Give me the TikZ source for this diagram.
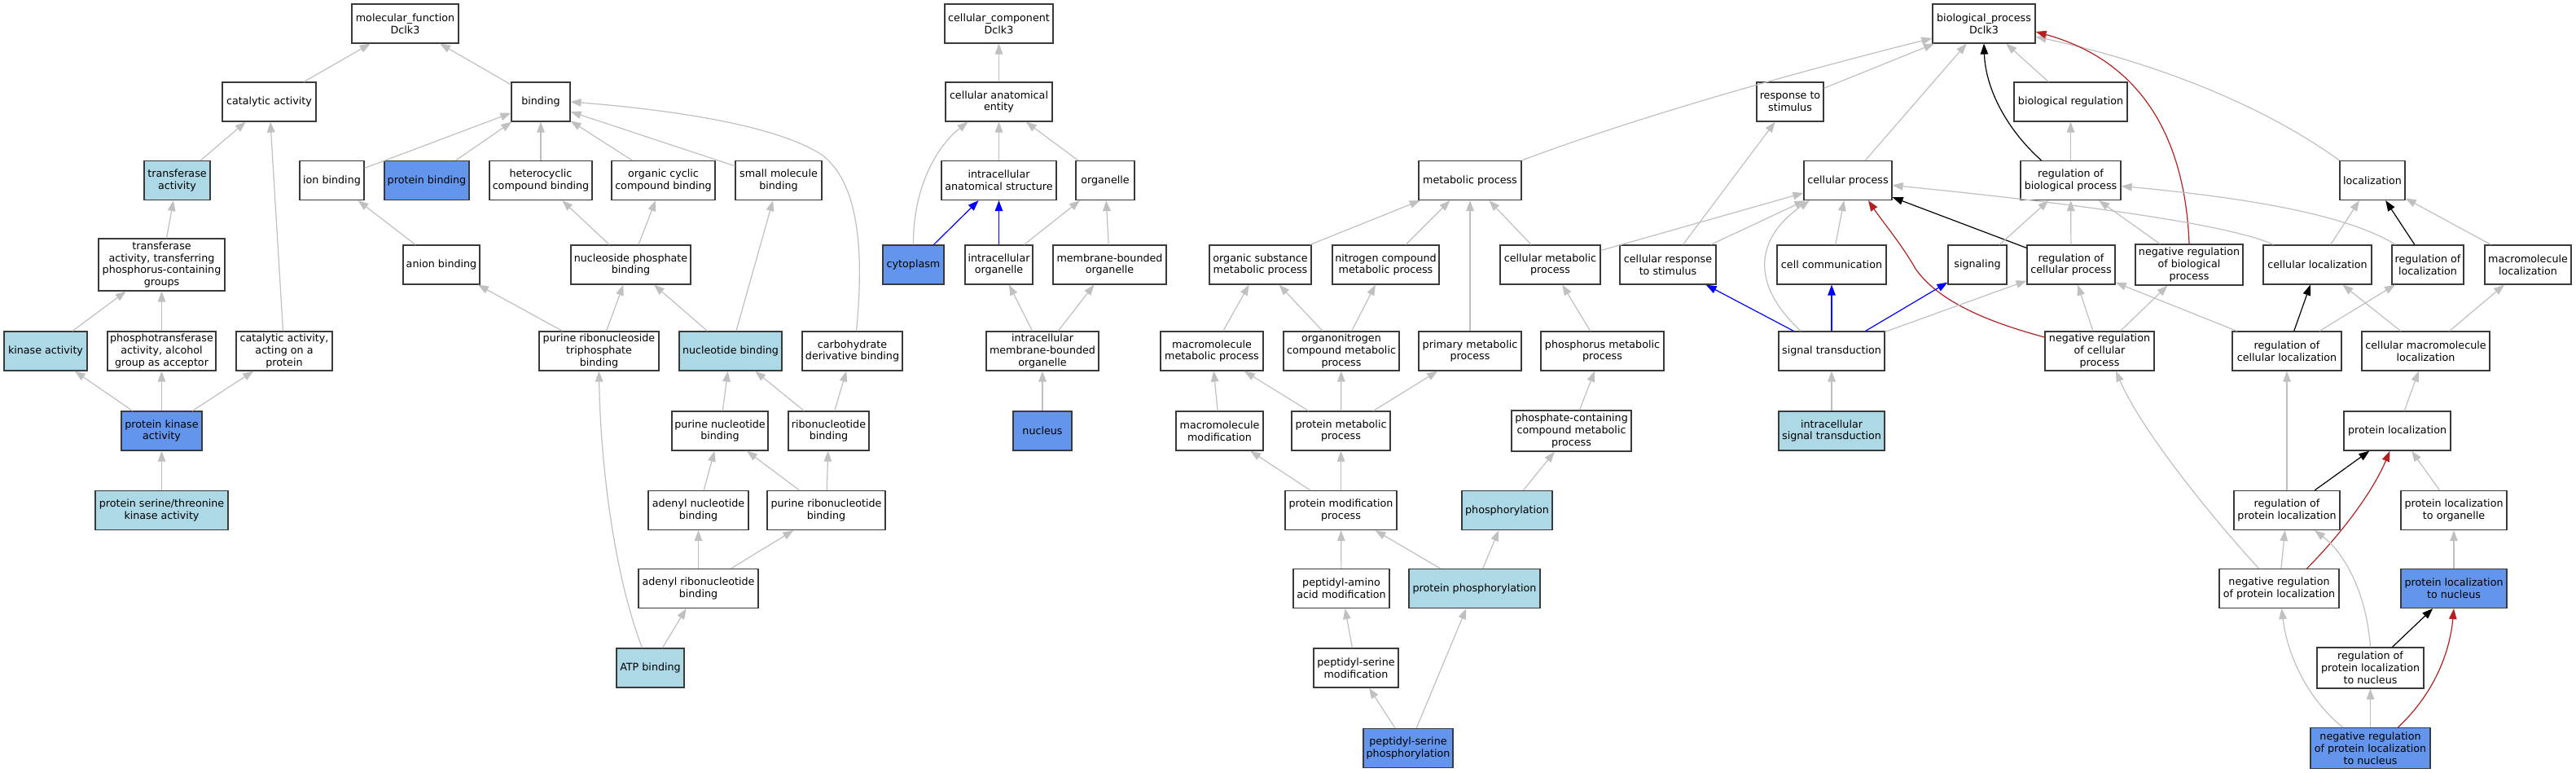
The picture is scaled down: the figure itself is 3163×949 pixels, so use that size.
\documentclass[tikz,border=0pt]{standalone}
\usepackage{fontspec}
\setmainfont{DejaVu Sans}
\usetikzlibrary{arrows.meta}
\definecolor{edgegray}{HTML}{C0C0C0}
\definecolor{lbfill}{HTML}{ADD8E6}
\definecolor{cbfill}{HTML}{6495ED}
\definecolor{fbred}{HTML}{B22222}
\definecolor{bord}{HTML}{3A3A3A}
\begin{document}
\begin{tikzpicture}[x=1pt,y=-1pt,
 box/.style={draw=bord,line width=1.2pt,fill=white,inner sep=0pt,align=center,minimum height=48pt,font=\fontsize{12.7pt}{14.8pt}\selectfont},
 lbox/.style={box,fill=lbfill},
 cbox/.style={box,fill=cbfill},
 ge/.style={draw=edgegray,line width=1.2pt,-{Triangle[length=13pt,width=9.5pt]}},
 be/.style={ge,draw=blue},
 ke/.style={ge,draw=black},
 re/.style={ge,draw=fbred}]
\fill[white] (0,0) rectangle (3163,949);
\useasboundingbox (0,0) rectangle (3163,949);
% row 0
\node[box,minimum width=131pt] (mf) at (497.5,29) {molecular\_function\\Dclk3};
\node[box,minimum width=133pt] (cc) at (1226.5,29) {cellular\_component\\Dclk3};
\node[box,minimum width=126pt] (bp) at (2436,29) {biological\_process\\Dclk3};
% row 1
\node[box,minimum width=115pt] (cat) at (330.5,125) {catalytic activity};
\node[box,minimum width=72pt] (bind) at (664,125) {binding};
\node[box,minimum width=131pt] (cae) at (1226.5,125) {cellular anatomical\\entity};
\node[box,minimum width=82pt] (rts) at (2198,125) {response to\\stimulus};
\node[box,minimum width=139pt] (breg) at (2542.5,125) {biological regulation};
% row 2
\node[lbox,minimum width=81pt] (trans) at (217.5,221.5) {transferase\\activity};
\node[box,minimum width=79pt] (ionb) at (407.5,221.5) {ion binding};
\node[cbox,minimum width=104pt] (protb) at (524,221.5) {protein binding};
\node[box,minimum width=126pt] (hetb) at (664,221.5) {heterocyclic\\compound binding};
\node[box,minimum width=127pt] (orgcb) at (814.5,221.5) {organic cyclic\\compound binding};
\node[box,minimum width=106pt] (smb) at (956,221.5) {small molecule\\binding};
\node[box,minimum width=141pt] (ias) at (1226.5,221.5) {intracellular\\anatomical structure};
\node[box,minimum width=72pt] (org) at (1357,221.5) {organelle};
\node[box,minimum width=126pt] (metp) at (1805,221.5) {metabolic process};
\node[box,minimum width=108pt] (cellp) at (2269,221.5) {cellular process};
\node[box,minimum width=123pt] (rbp) at (2542.5,221.5) {regulation of\\biological process};
\node[box,minimum width=80pt] (loc) at (2913,221.5) {localization};
% row 3
\node[box,minimum width=155pt,minimum height=64pt] (transP) at (198.5,325) {transferase\\activity, transferring\\phosphorus-containing\\groups};
\node[box,minimum width=94pt] (anb) at (542,325) {anion binding};
\node[box,minimum width=147pt] (npb) at (774.5,325) {nucleoside phosphate\\binding};
\node[cbox,minimum width=75pt] (cyto) at (1121.5,325) {cytoplasm};
\node[box,minimum width=83pt] (io) at (1226.5,325) {intracellular\\organelle};
\node[box,minimum width=139pt] (mbo) at (1362.5,325) {membrane-bounded\\organelle};
\node[box,minimum width=125pt] (osmp) at (1547.5,325) {organic substance\\metabolic process};
\node[box,minimum width=131pt] (ncmp) at (1701.5,325) {nitrogen compound\\metabolic process};
\node[box,minimum width=123pt] (cmp) at (1903.5,325) {cellular metabolic\\process};
\node[box,minimum width=118pt] (crs) at (2048,325) {cellular response\\to stimulus};
\node[box,minimum width=134pt] (ccom) at (2249,325) {cell communication};
\node[box,minimum width=72pt] (sig) at (2428,325) {signaling};
\node[box,minimum width=108pt] (rcp) at (2543,325) {regulation of\\cellular process};
\node[box,minimum width=132pt,minimum height=50pt] (nrbp) at (2688,325) {negative regulation\\of biological\\process};
\node[box,minimum width=133pt] (cloc) at (2845.5,325) {cellular localization};
\node[box,minimum width=88pt] (rloc) at (2981,325) {regulation of\\localization};
\node[box,minimum width=106pt] (mloc) at (3104,325) {macromolecule\\localization};
% row 4
\node[lbox,minimum width=102pt] (kin) at (56,431) {kinase activity};
\node[box,minimum width=133pt] (ptrans) at (198.5,431) {phosphotransferase\\activity, alcohol\\group as acceptor};
\node[box,minimum width=118pt] (catp) at (349,431) {catalytic activity,\\acting on a\\protein};
\node[box,minimum width=147pt] (prntb) at (735.5,431) {purine ribonucleoside\\triphosphate\\binding};
\node[lbox,minimum width=126pt] (nucb) at (897,431) {nucleotide binding};
\node[box,minimum width=123pt] (carb) at (1046.5,431) {carbohydrate\\derivative binding};
\node[box,minimum width=138pt] (imbo) at (1280,431) {intracellular\\membrane-bounded\\organelle};
\node[box,minimum width=126pt] (mmp) at (1488,431) {macromolecule\\metabolic process};
\node[box,minimum width=142pt] (oncmp) at (1647,431) {organonitrogen\\compound metabolic\\process};
\node[box,minimum width=126pt] (pmp) at (1805,431) {primary metabolic\\process};
\node[box,minimum width=151pt] (phmp) at (1967.5,431) {phosphorus metabolic\\process};
\node[box,minimum width=130pt] (st) at (2249,431) {signal transduction};
\node[box,minimum width=134pt] (nrcp) at (2578,431) {negative regulation\\of cellular\\process};
\node[box,minimum width=134pt] (rcloc) at (2808,431) {regulation of\\cellular localization};
\node[box,minimum width=157pt] (cmloc) at (2978.5,431) {cellular macromolecule\\localization};
% row 5
\node[cbox,minimum width=99pt] (pka) at (198.5,529) {protein kinase\\activity};
\node[box,minimum width=118pt] (pnb) at (884,529) {purine nucleotide\\binding};
\node[box,minimum width=99pt] (rnb) at (1017.5,529) {ribonucleotide\\binding};
\node[cbox,minimum width=72pt] (nuc) at (1280,529) {nucleus};
\node[box,minimum width=107pt] (mmod) at (1497.5,529) {macromolecule\\modification};
\node[box,minimum width=121pt] (prmp) at (1646.5,529) {protein metabolic\\process};
\node[box,minimum width=147pt,minimum height=50pt] (phcmp) at (1929.5,529) {phosphate-containing\\compound metabolic\\process};
\node[lbox,minimum width=130pt] (ist) at (2249,529) {intracellular\\signal transduction};
\node[box,minimum width=131pt] (ploc) at (2943.5,529) {protein localization};
% row 6
\node[lbox,minimum width=163pt] (pst) at (198.5,626.5) {protein serine/threonine\\kinase activity};
\node[box,minimum width=123pt] (adnb) at (857.5,626.5) {adenyl nucleotide\\binding};
\node[box,minimum width=145pt] (prnb) at (1014.5,626.5) {purine ribonucleotide\\binding};
\node[box,minimum width=137pt] (pmod) at (1646.5,626.5) {protein modification\\process};
\node[lbox,minimum width=111pt] (phos) at (1850.5,626.5) {phosphorylation};
\node[box,minimum width=130pt] (rploc) at (2808,626.5) {regulation of\\protein localization};
\node[box,minimum width=130pt] (plo) at (3013,626.5) {protein localization\\to organelle};
% row 7
\node[box,minimum width=147pt] (arnb) at (857.5,722.5) {adenyl ribonucleotide\\binding};
\node[box,minimum width=118pt] (pamod) at (1647,722.5) {peptidyl-amino\\acid modification};
\node[lbox,minimum width=161pt] (pphos) at (1810.5,722.5) {protein phosphorylation};
\node[box,minimum width=147pt] (nrploc) at (2798.5,722.5) {negative regulation\\of protein localization};
\node[cbox,minimum width=130pt] (pln) at (3013,722.5) {protein localization\\to nucleus};
% row 8
\node[lbox,minimum width=83pt] (atp) at (798.5,820) {ATP binding};
\node[box,minimum width=104pt] (psmod) at (1665,820) {peptidyl-serine\\modification};
\node[box,minimum width=131pt,minimum height=50pt] (rpln) at (2910.5,820) {regulation of\\protein localization\\to nucleus};
% row 9
\node[cbox,minimum width=110pt] (psphos) at (1729,918.5) {peptidyl-serine\\phosphorylation};
\node[cbox,minimum width=147pt,minimum height=50pt] (nrpln) at (2910.5,918.5) {negative regulation\\of protein localization\\to nucleus};
% ---- molecular function edges
\draw[ge] (cat) -- (mf);
\draw[ge] (bind) -- (mf);
\draw[ge] (trans) -- (cat);
\draw[ge] (catp) -- (cat);
\draw[ge] (ionb) -- (bind);
\draw[ge] (protb) -- (bind);
\draw[ge] (hetb) -- (bind);
\draw[ge] (orgcb) -- (bind);
\draw[ge] (smb) -- (bind);
\draw[ge] ([xshift=5pt]carb.north) .. controls (1062,300) and (1052,222) .. (1009,190) .. controls (960,158) and (850,137) .. (bind.east);
\draw[ge] (transP) -- (trans);
\draw[ge] (anb) -- (ionb);
\draw[ge] (npb) -- (hetb);
\draw[ge] (npb) -- (orgcb);
\draw[ge] (kin) -- (transP);
\draw[ge] (ptrans) -- (transP);
\draw[ge] (prntb) -- (anb);
\draw[ge] (prntb) -- (npb);
\draw[ge] (nucb) -- (npb);
\draw[ge] (nucb) -- (smb);
\draw[ge] (pka) -- (kin);
\draw[ge] (pka) -- (ptrans);
\draw[ge] (pka) -- (catp);
\draw[ge] (pst) -- (pka);
\draw[ge] (pnb) -- (nucb);
\draw[ge] (rnb) -- (nucb);
\draw[ge] (rnb) -- (carb);
\draw[ge] (adnb) -- (pnb);
\draw[ge] (prnb) -- (pnb);
\draw[ge] (prnb) -- (rnb);
\draw[ge] (arnb) -- (adnb);
\draw[ge] (arnb) -- (prnb);
\draw[ge] (atp) -- (arnb);
\draw[ge] ([xshift=-10pt]atp.north) .. controls (752,700) and (737,560) .. (prntb.south);
% ---- cellular component edges
\draw[ge] (cae) -- (cc);
\draw[ge] (ias) -- (cae);
\draw[ge] (org) -- (cae);
\draw[ge] (cyto.north) .. controls (1121,230) and (1150,180) .. ([xshift=-38pt]cae.south);
\draw[be] (cyto) -- (ias);
\draw[be] (io) -- (ias);
\draw[ge] (io) -- (org);
\draw[ge] (mbo) -- (org);
\draw[ge] (imbo) -- (io);
\draw[ge] (imbo) -- (mbo);
\draw[ge] (nuc) -- (imbo);
% ---- biological process edges
\draw[ge] (metp.north east) .. controls (2020,140) and (2220,85) .. ([yshift=-18pt]bp.west);
\draw[ge] (rts) -- (bp);
\draw[ge] (cellp) -- (bp);
\draw[ge] (breg) -- (bp);
\draw[ke] ([xshift=-36pt]rbp.north) .. controls (2465,160) and (2438,110) .. (bp.south);
\draw[ge] (loc.north west) .. controls (2780,130) and (2650,78) .. ([yshift=-16pt]bp.east);
\draw[re] (nrbp.north) .. controls (2683,170) and (2630,75) .. ([yshift=-10pt]bp.east);
\draw[ge] (rbp) -- (breg);
\draw[ge] (osmp) -- (metp);
\draw[ge] (ncmp) -- (metp);
\draw[ge] (pmp) -- (metp);
\draw[ge] (cmp) -- (metp);
\draw[ge] (cmp) -- (cellp);
\draw[ge] (crs) -- (rts);
\draw[ge] (crs) -- (cellp);
\draw[ge] (ccom) -- (cellp);
\draw[ge] ([xshift=-38pt]st.north) .. controls (2140,340) and (2165,285) .. ([xshift=-47pt]cellp.south);
\draw[ke] (rcp) -- (cellp);
\draw[re] ([yshift=17pt]nrcp.west) .. controls (2440,395) and (2380,370) .. (2352,330) .. controls (2335,300) and (2310,270) .. ([xshift=25pt]cellp.south);
\draw[ge] ([xshift=13pt]cloc.north west) .. controls (2740,276) and (2550,250) .. ([yshift=-6pt]cellp.east);
\draw[ge] (sig) -- (rbp);
\draw[ge] (rcp) -- (rbp);
\draw[ge] (nrbp) -- (rbp);
\draw[ge] ([xshift=5pt]rloc.north west) .. controls (2880,262) and (2750,242) .. ([yshift=-7pt]rbp.east);
\draw[ge] (cloc) -- (loc);
\draw[ke] (rloc) -- (loc);
\draw[ge] (mloc) -- (loc);
\draw[ge] (oncmp) -- (osmp);
\draw[ge] (oncmp) -- (ncmp);
\draw[ge] (mmp) -- (osmp);
\draw[ge] (phmp) -- (cmp);
\draw[be] (st) -- (crs);
\draw[be] (st) -- (ccom);
\draw[be] (st) -- (sig);
\draw[ge] (st) -- (rcp);
\draw[ge] (nrcp) -- (rcp);
\draw[ge] (nrcp) -- (nrbp);
\draw[ge] (rcloc) -- (rcp);
\draw[ke] (rcloc) -- (cloc);
\draw[ge] (rcloc) -- (rloc);
\draw[ge] (cmloc) -- (cloc);
\draw[ge] (cmloc) -- (mloc);
\draw[ge] (ist) -- (st);
\draw[ge] (prmp) -- (mmp);
\draw[ge] (prmp) -- (oncmp);
\draw[ge] (prmp) -- (pmp);
\draw[ge] (mmod) -- (mmp);
\draw[ge] (phcmp) -- (phmp);
\draw[ge] (pmod) -- (mmod);
\draw[ge] (pmod) -- (prmp);
\draw[ge] (phos) -- (phcmp);
\draw[ge] (pamod) -- (pmod);
\draw[ge] (pphos) -- (pmod);
\draw[ge] (pphos) -- (phos);
\draw[ge] (psmod) -- (pamod);
\draw[ge] (psphos) -- (psmod);
\draw[ge] (psphos) -- (pphos);
\draw[ge] (rploc) -- (rcloc);
\draw[ke] (rploc) -- (ploc);
\draw[ge] (ploc) -- (cmloc);
\draw[ge] (plo) -- (ploc);
\draw[ge] (pln) -- (plo);
\draw[ge] ([xshift=-25pt]nrploc.north) .. controls (2720,640) and (2630,530) .. ([xshift=20pt]nrcp.south);
\draw[ge] (nrploc) -- (rploc);
\draw[re] ([xshift=34pt]nrploc.north) .. controls (2880,650) and (2915,600) .. ([xshift=-9pt]ploc.south);
\draw[ge] (rpln.north) .. controls (2906,730) and (2880,680) .. ([xshift=34pt]rploc.south);
\draw[ke] (rpln) -- (pln);
\draw[ge] ([xshift=-34pt]nrpln.north) .. controls (2830,855) and (2808,800) .. ([xshift=3pt]nrploc.south);
\draw[ge] (nrpln) -- (rpln);
\draw[re] ([xshift=34pt]nrpln.north) .. controls (2990,850) and (3008,800) .. (pln.south);
\end{tikzpicture}
\end{document}
